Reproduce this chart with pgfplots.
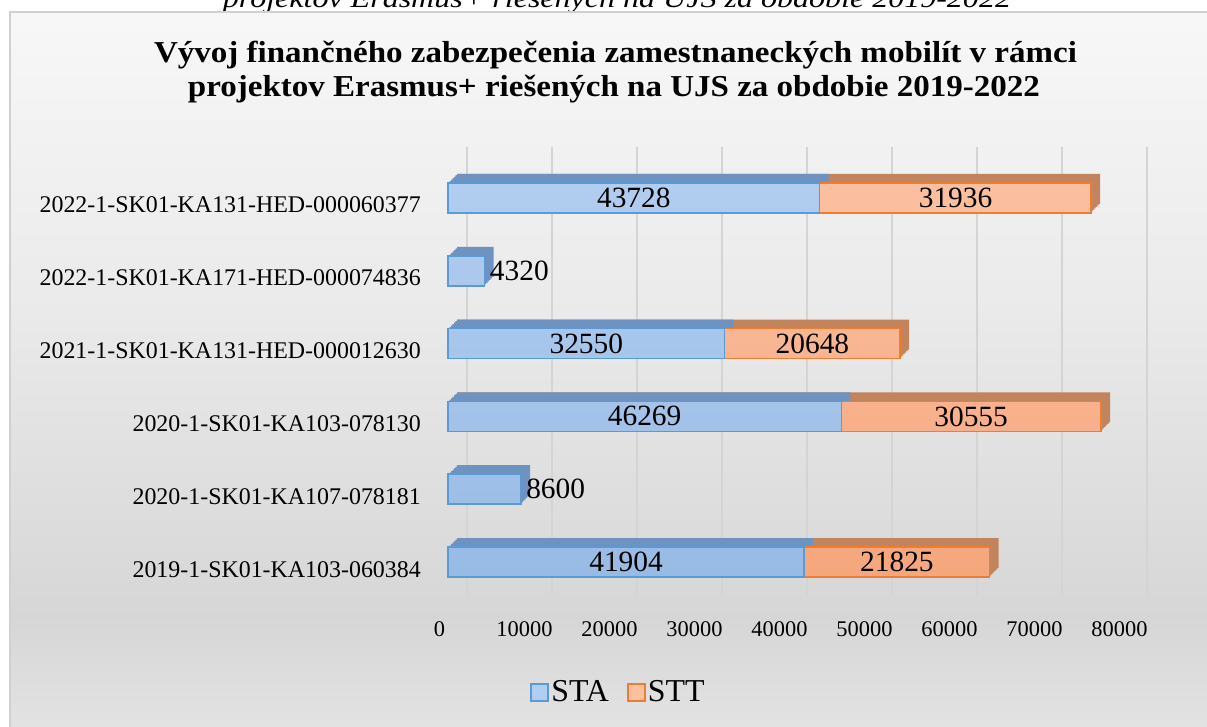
\documentclass[border=0pt]{standalone}
\usepackage{graphicx}
\usepackage{pgfplots}
\pgfplotsset{compat=1.18}
\usepackage{fontspec}
\setmainfont{Liberation Serif}
\definecolor{blueedge}{HTML}{5B9BD5}
\definecolor{blueT}{HTML}{B1CDEF}
\definecolor{blueB}{HTML}{98BBE5}
\definecolor{bluedepth}{HTML}{6F93C0}
\definecolor{orangeedge}{HTML}{ED7D31}
\definecolor{orangeT}{HTML}{FBC0A0}
\definecolor{orangeB}{HTML}{F5A67C}
\definecolor{orangedepth}{HTML}{C2845C}
\definecolor{gridc}{HTML}{D4D4D4}
\definecolor{framec}{HTML}{D0D0D0}
\pgfdeclareverticalshading{bgshade}{100bp}{color(0bp)=(black!11); color(25bp)=(black!11); color(33bp)=(black!16); color(55bp)=(black!8); color(75bp)=(black!3); color(100bp)=(black!3)}
\begin{document}
\begin{tikzpicture}
\path[use as bounding box] (0bp,0bp) rectangle (1207bp,727bp);
\clip (0bp,0bp) rectangle (1207bp,727bp);
\fill[white] (0bp,0bp) rectangle (1207bp,727bp);
\node[anchor=base, inner sep=0pt, font=\fontsize{27}{30}\selectfont\itshape] at (617bp,719bp) {\resizebox{788bp}{\height}{projektov Erasmus+ riešených na UJS za obdobie 2019-2022}};
\shade[shading=bgshade, draw=framec, line width=1.5bp] (10bp,-5bp) rectangle (1215bp,715bp);
\node[anchor=base, inner sep=0pt, font=\fontsize{30.5}{33}\selectfont\bfseries] at (615.5bp,664bp) {\resizebox{923bp}{\height}{Vývoj finančného zabezpečenia zamestnaneckých mobilít v rámci}};
\node[anchor=base, inner sep=0pt, font=\fontsize{30.5}{33}\selectfont\bfseries] at (614bp,630bp) {\resizebox{852bp}{\height}{projektov Erasmus+ riešených na UJS za obdobie 2019-2022}};
\begin{axis}[
  at={(448bp,121.3bp)}, anchor=south west,
  scale only axis, width=680bp, height=458.66bp,
  xmin=0, xmax=80000, ymin=-0.6, ymax=5.7,
  clip=false,
  axis line style={draw=none},
  major tick style={draw=none}, major tick length=0pt,
  xtick={0,10000,20000,30000,40000,50000,60000,70000,80000}, scaled x ticks=false,
  /pgf/number format/1000 sep={}, /pgf/number format/assume math mode=true,
  xticklabel style={font=\fontsize{22.5}{24}\selectfont, anchor=base, inner sep=0pt, xshift=-8.5bp, yshift=-31bp},
  ytick={0,1,2,3,4,5},
  yticklabels={2019-1-SK01-KA103-060384, 2020-1-SK01-KA107-078181, 2020-1-SK01-KA103-078130, 2021-1-SK01-KA131-HED-000012630, 2022-1-SK01-KA171-HED-000074836, 2022-1-SK01-KA131-HED-000060377},
  yticklabel style={font=\fontsize{24}{26}\selectfont, anchor=base east, inner sep=0pt, xshift=-27bp, yshift=-15bp},
  legend columns=2,
  legend style={at={(axis description cs:0.2507,-0.1882)}, anchor=center, draw=none, fill=none,
    font=\fontsize{32}{34}\selectfont, inner sep=0pt, nodes={inner sep=2bp},
    /tikz/every even column/.append style={column sep=16bp}},
]
\pgfplotsinvokeforeach{0,10000,20000,30000,40000,50000,60000,70000,80000}{
  \draw[gridc, line width=1.3bp] ([xshift=19bp]axis cs:#1,-0.45) -- ([xshift=19bp]axis cs:#1,5.7);
}
% depth (top and right faces) of the total (orange) bars
\pgfplotsinvokeforeach{1,...,6}{
  \addplot[xbar, bar width=30bp, bar shift=0pt, draw=none, fill=orangedepth, forget plot, xshift=#1*1.5bp, yshift=#1*1.5bp]
    coordinates {(63729,0) (76824,2) (53198,3) (75664,5)};
}
% depth of the STA (blue) bars
\pgfplotsinvokeforeach{1,...,6}{
  \addplot[xbar, bar width=30bp, bar shift=0pt, draw=none, fill=bluedepth, forget plot, xshift=#1*1.5bp, yshift=#1*1.5bp]
    coordinates {(41904,0) (8600,1) (46269,2) (32550,3) (4320,4) (43728,5)};
}
% front faces: STA + STT total (orange visible part = STT)
\addplot[xbar, bar width=30bp, bar shift=0pt, draw=orangeedge, line width=1.5bp, top color=orangeT, bottom color=orangeB, forget plot]
  coordinates {(63729,0) (76824,2) (53198,3) (75664,5)};
% front faces: STA
\addplot[xbar, bar width=30bp, bar shift=0pt, draw=blueedge, line width=1.5bp, top color=blueT, bottom color=blueB, forget plot]
  coordinates {(41904,0) (8600,1) (46269,2) (32550,3) (4320,4) (43728,5)};
% value labels centred on the segments
\addplot[forget plot, only marks, mark=*, mark size=0pt, mark options={draw=none, fill=none},
  nodes near coords, point meta=explicit symbolic,
  every node near coord/.style={anchor=center, inner sep=0pt, font=\fontsize{29.5}{32}\selectfont}]
  coordinates {(20952,0) [41904] (52816.5,0) [21825]
               (23134.5,2) [46269] (61546.5,2) [30555]
               (16275,3) [32550] (42874,3) [20648]
               (21864,5) [43728] (59712,5) [31936]};
% value labels right of the single bars
\addplot[forget plot, only marks, mark=*, mark size=0pt, mark options={draw=none, fill=none},
  nodes near coords, point meta=explicit symbolic,
  every node near coord/.style={anchor=west, inner sep=0pt, xshift=5bp, font=\fontsize{29.5}{32}\selectfont}]
  coordinates {(8600,1) [8600] (4320,4) [4320]};
\addlegendimage{legend image code/.code={\draw[draw=blueedge, fill=blueT, line width=2bp] (0bp,-8.5bp) rectangle (17bp,8.5bp);}}
\addlegendentry{STA}
\addlegendimage{legend image code/.code={\draw[draw=orangeedge, fill=orangeT, line width=2bp] (0bp,-8.5bp) rectangle (17bp,8.5bp);}}
\addlegendentry{STT}
\end{axis}
\end{tikzpicture}
\end{document}
